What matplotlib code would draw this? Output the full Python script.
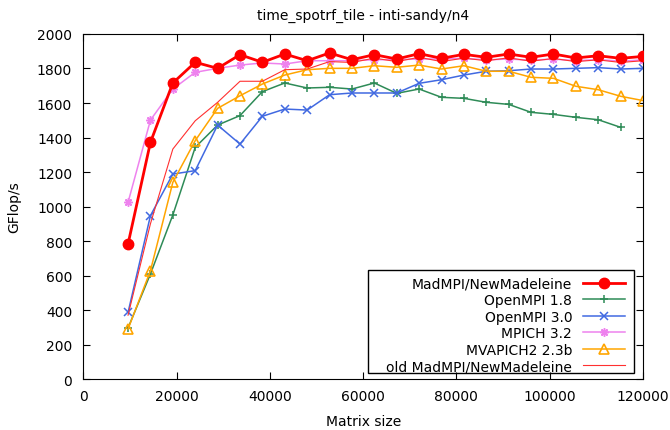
import numpy as np
import matplotlib.pyplot as plt
from matplotlib.patches import Rectangle

# taille des matrices (pas de 4800)
sizes = [9600, 14400, 19200, 24000, 28800, 33600, 38400, 43200, 48000, 52800,
         57600, 62400, 67200, 72000, 76800, 81600, 86400, 91200, 96000, 100800,
         105600, 110400, 115200, 120000]

madmpi = [783, 1372, 1716, 1836, 1801, 1880, 1836, 1884, 1845, 1890,
          1851, 1880, 1855, 1886, 1859, 1882, 1865, 1884, 1865, 1884,
          1861, 1874, 1859, 1870]
openmpi18 = [296, 609, 951, 1343, 1472, 1527, 1666, 1716, 1687, 1691,
             1681, 1716, 1656, 1681, 1633, 1627, 1604, 1592, 1546, 1534,
             1517, 1503, 1459]
openmpi30 = [386, 947, 1188, 1208, 1472, 1362, 1523, 1565, 1559, 1648,
             1658, 1658, 1658, 1714, 1735, 1762, 1784, 1787, 1797, 1797,
             1801, 1805, 1797, 1801]
mpich = [1024, 1501, 1681, 1778, 1801, 1820, 1832, 1826, 1845, 1845,
         1845, 1851, 1851, 1855, 1855, 1859, 1850, 1855, 1848, 1855,
         1845, 1852, 1842, 1850]
mvapich = [290, 628, 1140, 1382, 1569, 1642, 1710, 1762, 1793, 1801,
           1801, 1816, 1807, 1820, 1797, 1816, 1784, 1784, 1749, 1743,
           1697, 1677, 1639, 1614]
old_madmpi = [370, 900, 1333, 1497, 1604, 1726, 1726, 1793, 1797, 1840,
              1835, 1860, 1840, 1865, 1840, 1860, 1845, 1862, 1842, 1858,
              1840, 1850, 1835, 1845]

fig = plt.figure(figsize=(6.7, 4.31), dpi=100)
ax = fig.add_axes([0.1243, 0.1183, 0.8354, 0.8005])

ax.plot(sizes, madmpi, color='#ff0000', lw=2, marker='o', ms=7.5,
        label='MadMPI/NewMadeleine', zorder=6)
ax.plot(sizes[:len(openmpi18)], openmpi18, color='#2e8b57', lw=1.1, marker='+',
        ms=6, mew=1.1, label='OpenMPI 1.8')
ax.plot(sizes, openmpi30, color='#4169e1', lw=1.1, marker='x', ms=5.5, mew=1.1,
        label='OpenMPI 3.0')
ax.plot(sizes, mpich, color='#ee82ee', lw=1.1, marker=(8, 2, 0), ms=6, mew=1.1,
        label='MPICH 3.2')
ax.plot(sizes, mvapich, color='#ffa500', lw=1.1, marker='^', ms=6.5, mew=1.2,
        mfc='none', label='MVAPICH2 2.3b')
ax.plot(sizes, old_madmpi, color='#ff3030', lw=0.8,
        label='old MadMPI/NewMadeleine')

ax.set_xlim(0, 120000)
ax.set_ylim(0, 2000)
ax.set_xticks(np.arange(0, 120001, 20000))
ax.set_yticks(np.arange(0, 2001, 200))
ax.tick_params(direction='in', length=5, top=True, right=True, labelsize=10)
ax.tick_params(axis='x', pad=7)
ax.tick_params(axis='y', pad=8)
ax.set_xlabel('Matrix size', fontsize=10, labelpad=8)
ax.set_ylabel('GFlop/s', fontsize=10, labelpad=11)
ax.set_title('time_spotrf_tile - inti-sandy/n4', fontsize=10, pad=11)

leg = ax.legend(loc='lower right', bbox_to_anchor=(0.9678, 0.0174),
                markerfirst=False, frameon=False, fontsize=10,
                handlelength=3.0, labelspacing=0.18, borderaxespad=0,
                borderpad=0)
# cadre de la légende comme gnuplot (largeur fixe)
ax.add_patch(Rectangle((0.5092, 0.0174), 0.4748, 0.2994, transform=ax.transAxes,
                       fill=False, edgecolor='black', lw=1, zorder=7))

plt.savefig('out.png')
